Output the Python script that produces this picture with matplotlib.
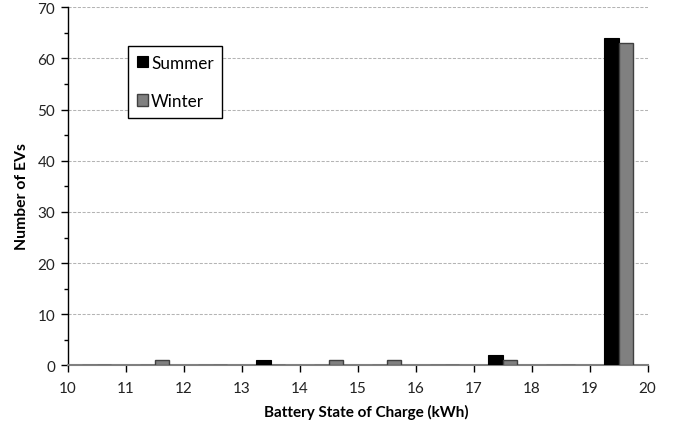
import matplotlib
matplotlib.use("Agg")
import matplotlib.pyplot as plt
from matplotlib.ticker import MultipleLocator
import numpy as np

bin_centers = [10.5, 11.5, 12.5, 13.5, 14.5, 15.5, 16.5, 17.5, 18.5, 19.5]
summer = [0, 0, 0, 1, 0, 0, 0, 2, 0, 64]
winter = [0, 1, 0, 0, 1, 1, 0, 1, 0, 63]
series_names = ["Summer", "Winter"]
x_ticks = list(range(10, 21))

plt.rcParams['font.family'] = ['Lato', 'DejaVu Sans']

fig = plt.figure(figsize=(6.78, 4.27), dpi=100)
ax = fig.add_axes([0.0999, 0.1417, 0.8553, 0.8389])

w = 0.25
x = np.array(bin_centers)
ax.bar(x - w / 2, summer, width=w, color='black', edgecolor='black', linewidth=0.8,
       label=series_names[0], zorder=3)
ax.bar(x + w / 2, winter, width=w, color='#808080', edgecolor='#404040', linewidth=1.0,
       label=series_names[1], zorder=3)

ax.set_xlim(10, 20)
ax.set_ylim(0, 70)
ax.set_xticks(x_ticks)
ax.yaxis.set_major_locator(MultipleLocator(10))
ax.yaxis.set_minor_locator(MultipleLocator(5))
ax.yaxis.grid(True, which='major', linestyle=(0, (3, 1.5)), color='#b4b4b4', linewidth=0.75)
ax.set_axisbelow(True)

for s in ['top', 'right']:
    ax.spines[s].set_visible(False)
ax.spines['left'].set_color('black')
ax.spines['left'].set_linewidth(1.0)
ax.spines['bottom'].set_color('#808080')
ax.spines['bottom'].set_linewidth(1.5)

ax.tick_params(axis='both', which='both', direction='out', colors='black',
               labelsize=11, labelcolor='#222222')
ax.tick_params(axis='x', length=5, width=1, pad=6)
ax.tick_params(axis='y', which='major', length=5, width=1, pad=4)
ax.tick_params(axis='y', which='minor', length=3, width=1)

ax.set_xlabel('Battery State of Charge (kWh)', fontsize=11, fontweight='bold')
ax.set_ylabel('Number of EVs', fontsize=11.3, fontweight='bold')
ax.xaxis.set_label_coords(0.515, -0.108)
ax.yaxis.set_label_coords(-0.066, 0.474)

leg = ax.legend(loc='upper left', bbox_to_anchor=(127.7 / 678, 1 - 46.7 / 427),
                bbox_transform=fig.transFigure, borderaxespad=0,
                fancybox=False, edgecolor='black', framealpha=1,
                fontsize=12.3, handlelength=0.64, handleheight=0.64, handletextpad=0.2,
                labelspacing=1.32, borderpad=0.52)
leg.get_frame().set_linewidth(1.0)

fig.savefig('out.png', dpi=100)
